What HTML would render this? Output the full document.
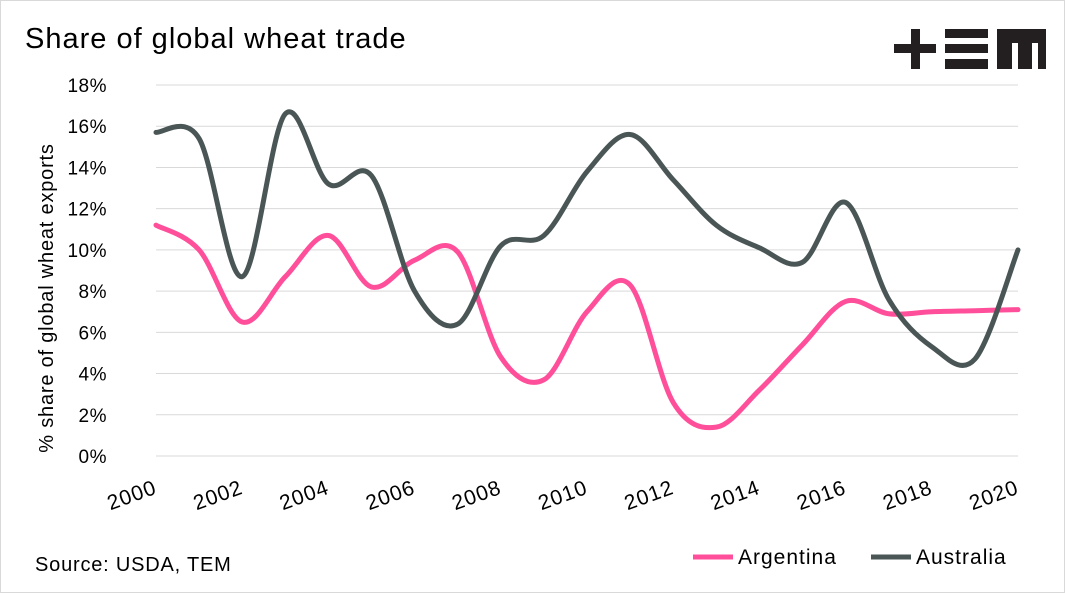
<!DOCTYPE html>
<html><head><meta charset="utf-8"><style>
body{margin:0;background:#fff;font-family:"Liberation Sans",sans-serif;}
#wrap{position:relative;width:1063px;height:591px;border:1px solid #d9d9d9;overflow:hidden;}
</style></head><body>
<div id="wrap">
<svg id="chart" width="1063" height="591" xmlns="http://www.w3.org/2000/svg">
<text x="24" y="47" font-size="29" letter-spacing="1" fill="#000">Share of global wheat trade</text>
<g fill="#231f20">
<rect x="893" y="43" width="42" height="9"/><rect x="910" y="28" width="9" height="40"/>
<rect x="944" y="28" width="43" height="9"/><rect x="944" y="43" width="43" height="9"/><rect x="944" y="58" width="43" height="10"/>
<path d="M996 28H1045V68H1037V42H1031V68H1017V42H1011V68H996Z"/>
</g>
<g id="grid"></g><g id="ylabels"></g><g id="xlabels"></g><g id="lines"></g>
<text transform="translate(52,297) rotate(-90)" text-anchor="middle" font-size="20" letter-spacing="0.8" fill="#000">% share of global wheat exports</text>
<text x="34" y="570" font-size="20" letter-spacing="0.8" fill="#000">Source: USDA, TEM</text>
<g><line x1="692" y1="556" x2="732" y2="556" stroke="#ff4f9a" stroke-width="5"/><text x="737" y="563" font-size="21" letter-spacing="1">Argentina</text></g>
<g><line x1="870" y1="556" x2="910" y2="556" stroke="#4a5655" stroke-width="5"/><text x="915" y="563" font-size="21" letter-spacing="1">Australia</text></g>
</svg></div>
<script>
const years=[2000,2001,2002,2003,2004,2005,2006,2007,2008,2009,2010,2011,2012,2013,2014,2015,2016,2017,2018,2019,2020];
const argentina=[11.2,10.0,6.5,8.7,10.7,8.2,9.5,9.9,4.8,3.7,7.0,8.3,2.6,1.4,3.2,5.4,7.5,6.9,7.0,7.05,7.1];
const australia=[15.7,15.4,8.7,16.6,13.2,13.6,8.0,6.4,10.2,10.7,13.8,15.6,13.4,11.2,10.1,9.4,12.3,7.6,5.3,4.7,10.0];
const yTicks=[0,2,4,6,8,10,12,14,16,18];
const xTicks=[2000,2002,2004,2006,2008,2010,2012,2014,2016,2018,2020];
const NS="http://www.w3.org/2000/svg";
const xs=y=>155+(y-2000)*(1017-155)/20;
const ys=v=>455-v*(455-84)/18;
function mk(t,a,p){const e=document.createElementNS(NS,t);for(const k in a)e.setAttribute(k,a[k]);p.appendChild(e);return e;}
const grid=document.getElementById('grid'),yl=document.getElementById('ylabels'),xl=document.getElementById('xlabels'),ln=document.getElementById('lines');
yTicks.forEach(v=>{
 const l=mk('line',{x1:155,x2:1017,y1:ys(v),y2:ys(v),stroke:'#d9d9d9','stroke-width':1},grid);
 
 
 const t=mk('text',{x:106,y:ys(v)+7,'text-anchor':'end','font-size':19,'letter-spacing':0.5},yl);t.textContent=v+'%';
 
 
});
xTicks.forEach(y=>{
 const t=mk('text',{x:0,y:0,'text-anchor':'end','font-size':21,'letter-spacing':1,transform:`translate(${xs(y)+2},${492}) rotate(-20)`},xl);t.textContent=y;
 
 
});
function path(vals){
 const p=vals.map((v,i)=>[xs(years[i]),ys(v)]);let d=`M${p[0][0]},${p[0][1]}`;
 for(let i=0;i<p.length-1;i++){const p0=p[i-1]||p[i],p1=p[i],p2=p[i+1],p3=p[i+2]||p2;
  d+=`C${p1[0]+(p2[0]-p0[0])/6},${p1[1]+(p2[1]-p0[1])/6} ${p2[0]-(p3[0]-p1[0])/6},${p2[1]-(p3[1]-p1[1])/6} ${p2[0]},${p2[1]}`;}
 return d;}
const a=mk('path',{d:path(argentina),fill:'none',stroke:'#ff4f9a','stroke-width':5,'stroke-linecap':'round'},ln);


const b=mk('path',{d:path(australia),fill:'none',stroke:'#4a5655','stroke-width':5,'stroke-linecap':'round'},ln);


</script>
</body></html>
